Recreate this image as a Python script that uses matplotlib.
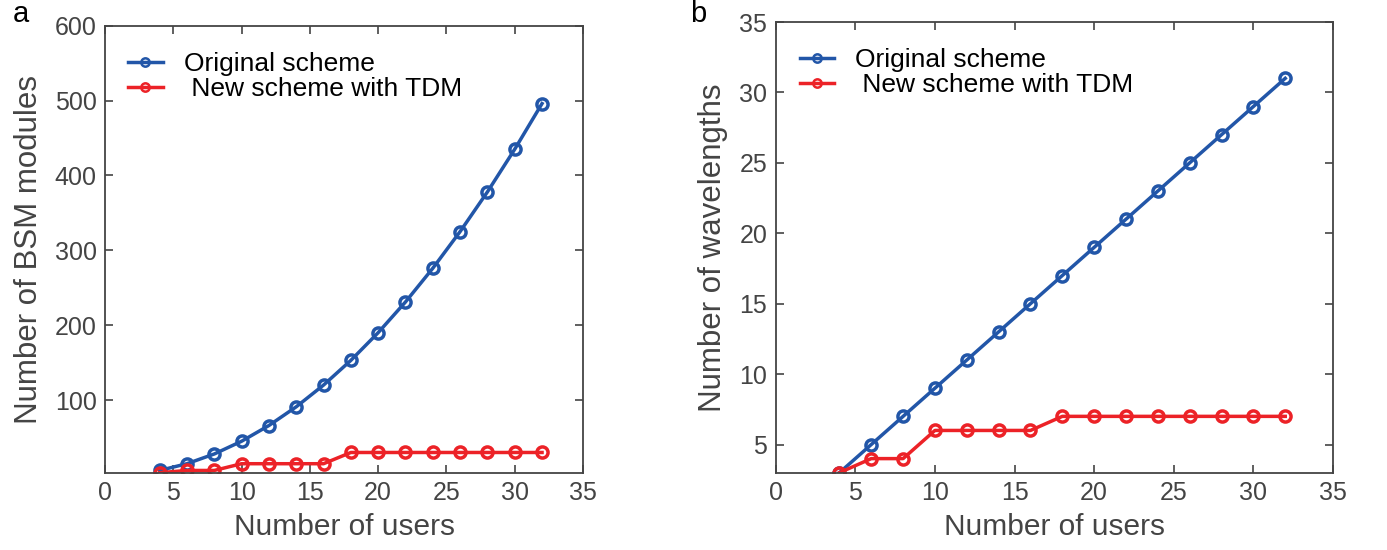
import matplotlib
matplotlib.use("Agg")
from matplotlib import pyplot as plt

# users on the x axis
users = [4, 6, 8, 10, 12, 14, 16, 18, 20, 22, 24, 26, 28, 30, 32]

# panel a: BSM modules
bsm_original = [6, 15, 28, 45, 66, 91, 120, 153, 190, 231, 276, 325, 378, 435, 496]
bsm_tdm = [3, 6, 6, 15, 15, 15, 15, 30, 30, 30, 30, 30, 30, 30, 30]

# panel b: wavelengths
wl_original = [3, 5, 7, 9, 11, 13, 15, 17, 19, 21, 23, 25, 27, 29, 31]
wl_tdm = [3, 4, 4, 6, 6, 6, 6, 7, 7, 7, 7, 7, 7, 7, 7]

labels = ["Original scheme", " New scheme with TDM"]
blue = "#2256a8"
red = "#ec2227"
grey = "#444444"

plt.rcParams["font.family"] = ["Liberation Sans", "DejaVu Sans"]

fig = plt.figure(figsize=(13.87, 5.5), dpi=100)
W, H = 1387, 550
ax1 = fig.add_axes([105 / W, 1 - 472.7 / H, (583 - 105) / W, (472.7 - 25.7) / H])
ax2 = fig.add_axes([775.7 / W, 1 - 472.7 / H, (1333 - 775.7) / W, (472.7 - 22) / H])


def draw(ax, y1, y2, ylim, yticks, ylabel):
    ax.plot(users, y1, "-o", color=blue, lw=2.5, ms=8, mfc="none", mew=2.5, label=labels[0])
    ax.plot(users, y2, "-o", color=red, lw=2.5, ms=8, mfc="none", mew=2.5, label=labels[1])
    ax.set_xlim(0, 35)
    ax.set_ylim(*ylim)
    ax.set_xticks(range(0, 36, 5))
    ax.set_yticks(yticks)
    ax.tick_params(direction="in", top=True, right=True, length=6, width=1.2,
                   color=grey, labelsize=18, labelcolor=grey, pad=6)
    for s in ax.spines.values():
        s.set_color(grey)
        s.set_linewidth(1.3)
    ax.set_xlabel("Number of users", fontsize=21.5, color=grey, labelpad=6)
    ax.set_ylabel(ylabel, fontsize=22.5, color=grey, labelpad=8)
    leg = ax.legend(loc="upper left", frameon=False, fontsize=19, handlelength=1.3,
                    handletextpad=0.8, borderaxespad=0.3, labelspacing=0.05,
                    bbox_to_anchor=(0.01, 0.983))
    for h in leg.legend_handles:
        h.set_markersize(6)
        h.set_markeredgewidth(1.8)
        h.set_markerfacecolor("none")


draw(ax1, bsm_original, bsm_tdm, (3, 600), range(100, 601, 100), "Number of BSM modules")
draw(ax2, wl_original, wl_tdm, (3, 35), range(5, 36, 5), "Number of wavelengths")

fig.text(13 / W, 1 - 14 / H, "a", fontsize=21, va="center", ha="left", color="black")
fig.text(690 / W, 1 - 14 / H, "b", fontsize=21, va="center", ha="left", color="black")

plt.savefig("out.png", dpi=100)
